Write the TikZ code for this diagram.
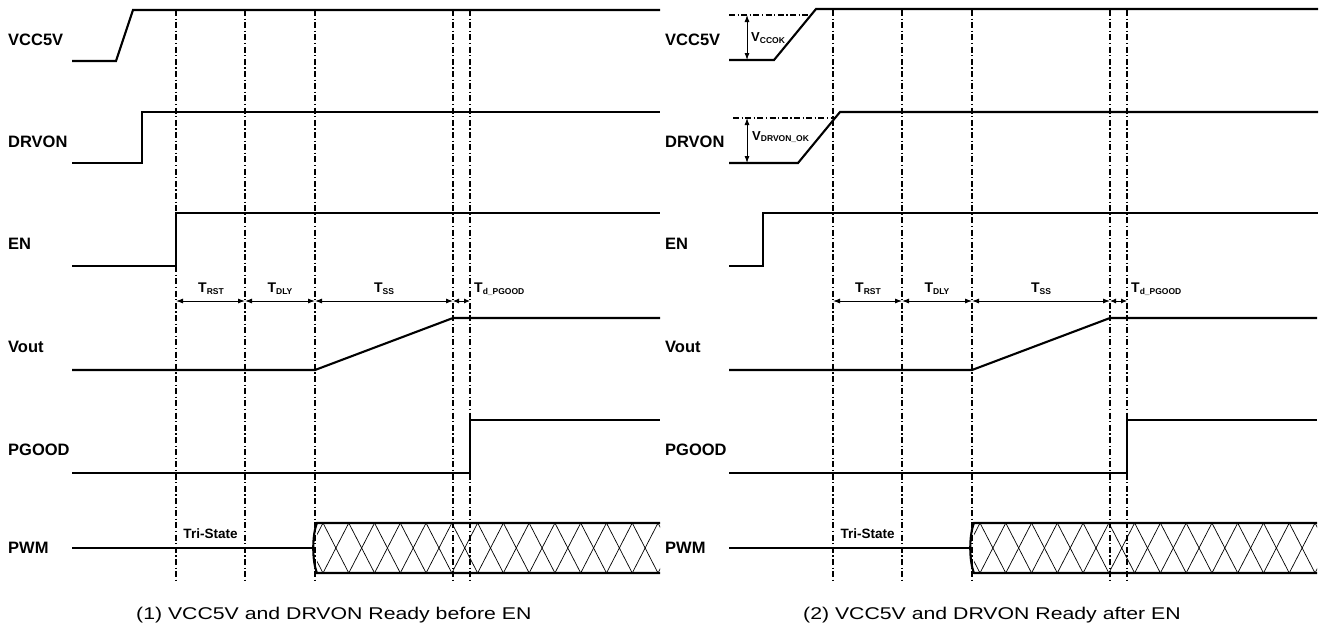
\documentclass[tikz,border=0pt]{standalone}
\usepackage{fontspec}
\setmainfont{Liberation Sans}
\newfontfamily\capfont[FakeStretch=1.25]{Liberation Sans}
\usetikzlibrary{arrows.meta}
\tikzset{
  sig/.style={line width=2.1pt, line join=miter},
  guide/.style={line width=1.1pt, dash pattern=on 6pt off 2.5pt on 1.2pt off 2.5pt},
  lvl/.style={line width=1.1pt, dash pattern=on 6pt off 2.5pt on 1.2pt off 2.5pt},
  dim/.style={line width=0.9pt, {Latex[length=7pt,width=5pt]}-{Latex[length=7pt,width=5pt]}},
  siglabel/.style={font=\bfseries\fontsize{16.5}{18}\selectfont, anchor=west, inner sep=0pt},
  tlabel/.style={font=\bfseries\fontsize{14}{16}\selectfont, inner sep=0pt},
  vlabel/.style={font=\bfseries\fontsize{13}{15}\selectfont, inner sep=0pt, anchor=west},
  tristate/.style={font=\bfseries\fontsize{13.5}{15}\selectfont, inner sep=0pt},
  caption/.style={font=\capfont\fontsize{17}{19}\selectfont, anchor=west, inner sep=0pt},
  hatch/.style={line width=0.7pt},
}
\newcommand\tsub[1]{\raisebox{-0.25ex}{\fontsize{8.5}{9}\selectfont #1}}
\begin{document}
\begin{tikzpicture}[x=1pt,y=-1pt]
\useasboundingbox (0,0) rectangle (1321,635);
\fill[white] (0,0) rectangle (1321,635);

% ---- common parts of both panels ----
\foreach \p/\o in {L/0,R/657}{
\begin{scope}[xshift=\o pt]
  \foreach \g/\x in {a/176,b/245,c/315,d/453,e/470}{
    \coordinate (\p-\g-top) at (\x,10);
    \coordinate (\p-\g-bot) at (\x,582);
    \draw[guide] (\p-\g-top) -- (\p-\g-bot);
    \coordinate (\p-\g-arr) at (\x,301);
  }
  % labels
  \node[siglabel] (\p-vcc) at (8,40) {VCC5V};
  \node[siglabel] (\p-drv) at (8,142) {DRVON};
  \node[siglabel] (\p-en) at (8,244) {EN};
  \node[siglabel] (\p-vout) at (8,347) {Vout};
  \node[siglabel] (\p-pg) at (8,450) {PGOOD};
  \node[siglabel] (\p-pwm) at (8,548) {PWM};
  % timing
  \draw[dim] (\p-a-arr) -- (\p-b-arr);
  \draw[dim] (\p-b-arr) -- (\p-c-arr);
  \draw[dim] (\p-c-arr) -- (\p-d-arr);
  \draw[line width=0.9pt, {Latex[length=6pt,width=5pt]}-{Latex[length=6pt,width=5pt]}] (\p-d-arr) -- (\p-e-arr);
  \node[tlabel] (\p-trst) at (211,289) {T\tsub{RST}};
  \node[tlabel] (\p-tdly) at (280,289) {T\tsub{DLY}};
  \node[tlabel] (\p-tss) at (384,289) {T\tsub{SS}};
  \node[tlabel, anchor=west] (\p-tpg) at (474,289) {T\tsub{d\_PGOOD}};
  % Vout
  \draw[sig] (72,370) -- (315,370) -- (453,318) -- (660,318);
  % PGOOD
  \draw[sig] (72,473) -- (470,473) -- (470,420) -- (660,420);
  % PWM
  \draw[sig] (72,548) -- (313,548);
  \begin{scope}
    \clip (317,523) rectangle (660,573);
    \foreach \i in {-1,...,13}{
      \draw[hatch] ({323+25.77*\i},523) -- ({323+25.77*(\i+1)},573);
      \draw[hatch] ({323+25.77*(\i+1)},523) -- ({323+25.77*\i},573);
    }
  \end{scope}
  \draw[sig] (660,523) -- (317,523) .. controls (312,535) and (312,561) .. (317,573) -- (660,573);
  \node[tristate] (\p-tri) at (210.5,534) {Tri-State};
\end{scope}
}

% ---- left panel specific ----
\draw[sig] (72,61) -- (116,61) -- (133,10) -- (660,10);
\draw[sig] (72,163) -- (142,163) -- (142,112) -- (660,112);
\draw[sig] (72,266) -- (176,266) -- (176,213) -- (660,213);

% ---- right panel specific ----
\draw[sig] (729,60) -- (774,60) -- (816,9) -- (1318,9);
\draw[sig] (729,163) -- (798,163) -- (840,112) -- (1318,112);
\draw[sig] (729,266) -- (763,266) -- (763,213) -- (1318,213);
\coordinate (vccA) at (729,15);
\coordinate (vccB) at (811,15);
\draw[lvl] (vccA) -- (vccB);
\coordinate (drvA) at (733,118);
\coordinate (drvB) at (835,118);
\draw[lvl] (drvA) -- (drvB);
\coordinate (vccT) at (747,15);
\coordinate (vccL) at (747,60);
\draw[dim] (vccT) -- (vccL);
\coordinate (drvT) at (747,118);
\coordinate (drvL) at (747,163);
\draw[dim] (drvT) -- (drvL);
\node[vlabel] (vccok) at (751,38) {V\tsub{CCOK}};
\node[vlabel] (drvok) at (752,137) {V\tsub{DRVON\_OK}};

% ---- captions ----
\node[caption] (cap1) at (136,615) {(1) VCC5V and DRVON Ready before EN};
\node[caption] (cap2) at (803,615) {(2) VCC5V and DRVON Ready after EN};
\end{tikzpicture}
\end{document}
